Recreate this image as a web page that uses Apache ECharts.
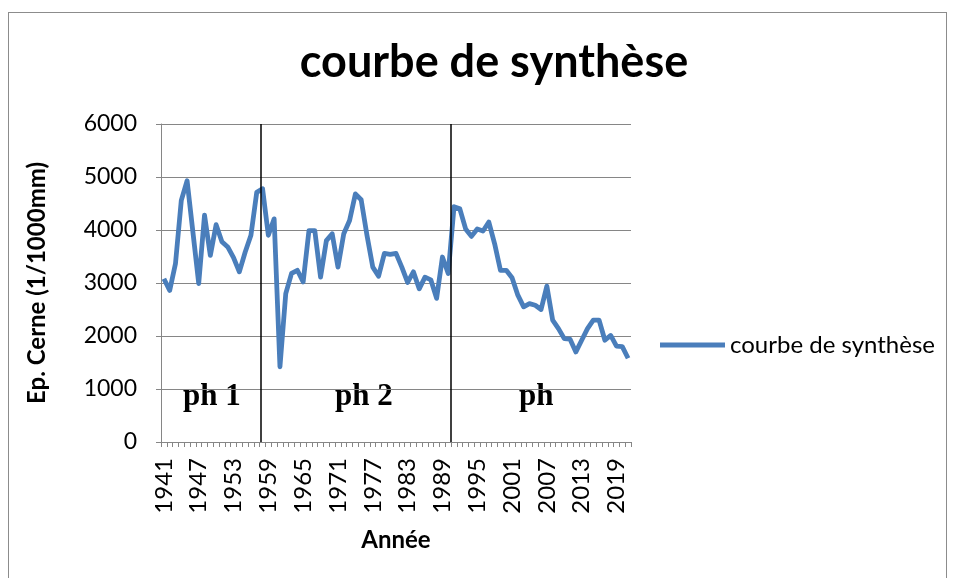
<!DOCTYPE html>
<html>
<head>
<meta charset="utf-8">
<script src="https://cdn.jsdelivr.net/npm/echarts@6/dist/echarts.min.js"></script>
<style>
  html, body { margin: 0; padding: 0; background: #fff; }
  #frame { position: absolute; left: 8px; top: 12px; width: 937px; height: 600px; border: 1px solid #8c8c8c; }
  #chart { position: absolute; left: 0; top: 0; width: 955px; height: 578px; }
</style>
</head>
<body>
<div id="frame"></div>
<div id="chart"></div>
<script>
// années 1941 -> 2021
const years = [];
for (let y = 1941; y <= 2021; y++) years.push(String(y));

// épaisseur de cerne (1/1000 mm)
const courbe = [
  3080, 2860, 3370, 4560, 4930, 3960, 2990, 4280, 3520, 4100,
  3780, 3680, 3480, 3210, 3580, 3900, 4710, 4780, 3900, 4210,
  1420, 2800, 3180, 3240, 3020, 3990, 3990, 3110, 3800, 3930,
  3300, 3930, 4180, 4680, 4570, 3900, 3300, 3130, 3560, 3540,
  3560, 3300, 3010, 3210, 2890, 3110, 3060, 2710, 3490, 3180,
  4440, 4400, 4020, 3880, 4020, 3980, 4150, 3740, 3240, 3240,
  3100, 2770, 2550, 2610, 2580, 2500, 2940, 2300, 2140, 1950,
  1940, 1700, 1920, 2140, 2300, 2300, 1920, 2010, 1810, 1800,
  1580
];

// séparations des phases (en années, sur un axe continu caché)
const phaseBreaks = [1957.75, 1990.5];
const phaseLabels = ['ph 1', 'ph 2', 'ph'];

const font = 'Lato, "Open Sans", sans-serif';
const serif = 'bold 31px "Liberation Serif", "Times New Roman", serif';
const grey = '#868686';

let chart = echarts.init(document.getElementById('chart'));
chart.setOption({
  animation: false,
  title: {
    text: 'courbe de synthèse',
    left: 489,
    textAlign: 'center',
    top: 35,
    textStyle: { fontFamily: font, fontWeight: 'bold', fontSize: 45, color: '#000' }
  },
  legend: {
    left: 655,
    top: 328,
    icon: 'rect',
    itemWidth: 65,
    itemHeight: 5,
    textStyle: { fontFamily: font, fontSize: 24, color: '#000' },
    data: ['courbe de synthèse']
  },
  grid: { left: 161, right: 324, top: 124, bottom: 136 },
  xAxis: [{
    type: 'category',
    data: years,
    boundaryGap: true,
    name: 'Année',
    nameLocation: 'middle',
    nameGap: 86,
    nameTextStyle: { fontFamily: font, fontWeight: 'bold', fontSize: 24, color: '#000' },
    axisLine: { lineStyle: { color: grey, width: 1 } },
    axisTick: { show: true, interval: 0, length: 5, lineStyle: { color: grey } },
    axisLabel: { interval: 5, rotate: 90, margin: 16, fontFamily: font, fontSize: 24, color: '#000' },
    splitLine: { show: false }
  }, {
    type: 'value',
    show: false,
    min: 1940.5,
    max: 2021.5,
    splitLine: { show: false }
  }],
  yAxis: {
    type: 'value',
    min: 0,
    max: 6000,
    interval: 1000,
    name: 'Ep. Cerne (1/1000mm)',
    nameLocation: 'middle',
    nameGap: 112,
    nameTextStyle: { fontFamily: font, fontWeight: 'bold', fontSize: 24, color: '#000' },
    axisLine: { show: true, lineStyle: { color: grey, width: 1 } },
    axisTick: { show: true, length: 5, lineStyle: { color: grey } },
    axisLabel: { margin: 24, fontFamily: font, fontSize: 23, color: '#000', formatter: v => String(v) },
    splitLine: { show: true, lineStyle: { color: grey, width: 1 } }
  },
  series: [{
    name: 'courbe de synthèse',
    type: 'line',
    data: courbe,
    showSymbol: false,
    symbol: 'none',
    smooth: false,
    z: 3,
    itemStyle: { color: '#4a7ebb' },
    lineStyle: { color: '#4a7ebb', width: 4.8, join: 'round' }
  }, {
    name: 'phases',
    type: 'line',
    xAxisIndex: 1,
    data: [],
    z: 4,
    markLine: {
      silent: true,
      symbol: ['none', 'none'],
      label: { show: false },
      lineStyle: { color: '#000', type: 'solid', width: 1.5 },
      data: phaseBreaks.map(v => ({ xAxis: v }))
    }
  }],
  graphic: [
    { type: 'text', left: 183, top: 381, style: { text: phaseLabels[0], font: serif, fill: '#000' } },
    { type: 'text', left: 335, top: 381, style: { text: phaseLabels[1], font: serif, fill: '#000' } },
    { type: 'text', left: 519, top: 381, style: { text: phaseLabels[2], font: serif, fill: '#000' } }
  ]
});
window.addEventListener('resize', () => { chart.resize() });
</script>
</body>
</html>
